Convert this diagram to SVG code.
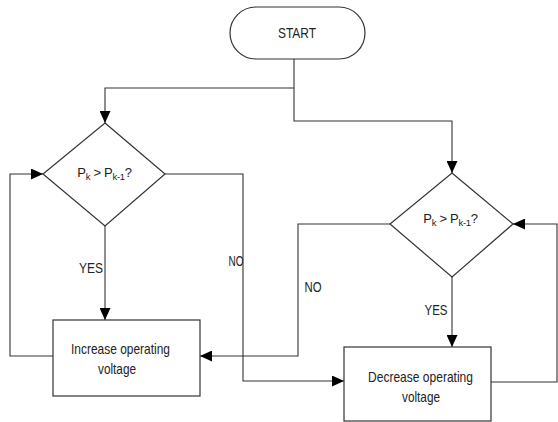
<svg xmlns="http://www.w3.org/2000/svg" width="558" height="422" viewBox="0 0 558 422">
<style>
.shape{fill:#fff;stroke:#333;stroke-width:1.2}
.conn{fill:none;stroke:#333;stroke-width:1.1}
text{font-family:"Liberation Sans",Arial,sans-serif;font-size:15px;fill:#222}
.mid{text-anchor:middle}
.dec{font-size:13px;letter-spacing:-0.3px}
.sub{font-size:9.5px}
</style>
<defs>
<marker id="arr" markerUnits="userSpaceOnUse" markerWidth="12" markerHeight="11" refX="12" refY="5.5" orient="auto">
<path d="M0,0 L12,5.5 L0,11 Z" fill="#000"/>
</marker>
</defs>
<rect width="558" height="422" fill="#fff"/>
<g id="connectors">
<path class="conn" d="M294 59 V121 H452 V173" marker-end="url(#arr)"/>
<path class="conn" d="M294 88 H105 V123" marker-end="url(#arr)"/>
<path class="conn" d="M53 356 H10 V174 H43" marker-end="url(#arr)"/>
<path class="conn" d="M105 226 V320" marker-end="url(#arr)"/>
<path class="conn" d="M165 174 H243 V381 H344" marker-end="url(#arr)"/>
<path class="conn" d="M390 224 H298 V356 H200" marker-end="url(#arr)"/>
<path class="conn" d="M452 277 V347" marker-end="url(#arr)"/>
<path class="conn" d="M491 382 H557 V224 H513" marker-end="url(#arr)"/>
<text x="91" y="273" class="mid" textLength="24" lengthAdjust="spacingAndGlyphs">YES</text>
<text x="236" y="266" class="mid" textLength="15" lengthAdjust="spacingAndGlyphs">NO</text>
<text x="313" y="292" class="mid" textLength="17" lengthAdjust="spacingAndGlyphs">NO</text>
<text x="436" y="315" class="mid" textLength="23" lengthAdjust="spacingAndGlyphs">YES</text>
</g>
<g id="start">
<rect class="shape" x="230" y="7" width="135" height="52" rx="26" ry="26"/>
<text x="297" y="38" class="mid" textLength="38" lengthAdjust="spacingAndGlyphs">START</text>
</g>
<g id="decision1">
<polygon class="shape" points="105,123 165,174 105,226 43,174"/>
<text x="104.5" y="177" class="mid dec">P<tspan class="sub" dy="3">k</tspan><tspan dy="-3"> &gt; P</tspan><tspan class="sub" dy="3">k-1</tspan><tspan dy="-3">?</tspan></text>
</g>
<g id="decision2">
<polygon class="shape" points="452,173 513,224 452,277 390,224"/>
<text x="450.5" y="223" class="mid dec">P<tspan class="sub" dy="3">k</tspan><tspan dy="-3"> &gt; P</tspan><tspan class="sub" dy="3">k-1</tspan><tspan dy="-3">?</tspan></text>
</g>
<g id="increase">
<rect class="shape" x="53" y="320" width="147" height="76"/>
<text x="120.5" y="354" class="mid" textLength="99" lengthAdjust="spacingAndGlyphs">Increase operating</text>
<text x="117" y="374" class="mid" textLength="38" lengthAdjust="spacingAndGlyphs">voltage</text>
</g>
<g id="decrease">
<rect class="shape" x="344" y="347" width="147" height="74"/>
<text x="420.5" y="382" class="mid" textLength="105" lengthAdjust="spacingAndGlyphs">Decrease operating</text>
<text x="421" y="402" class="mid" textLength="38" lengthAdjust="spacingAndGlyphs">voltage</text>
</g>
</svg>
